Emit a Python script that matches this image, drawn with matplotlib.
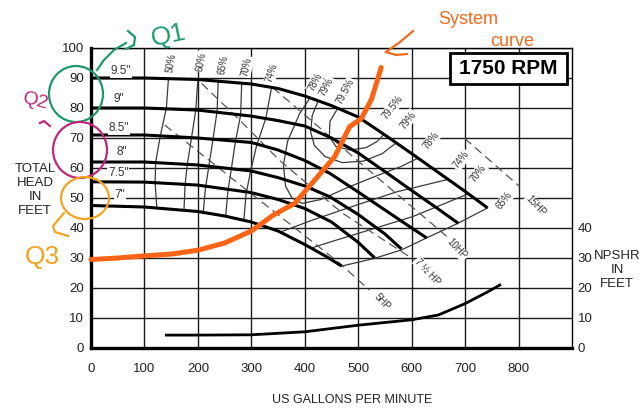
import matplotlib
matplotlib.use("Agg")
import matplotlib.pyplot as plt
from matplotlib.patches import Ellipse, Rectangle

plt.rcParams['font.family'] = ['Liberation Sans', 'DejaVu Sans']

# impeller head curves (gpm, ft)
q_95 = [0, 100, 200, 300, 350, 400, 450, 500, 550, 600, 650, 700, 742]
h_95 = [90, 90, 89.5, 88, 86.5, 84, 80.8, 77, 71, 64.8, 58.5, 52.2, 46.7]
q_90 = [0, 100, 200, 300, 350, 400, 450, 500, 550, 600, 650, 687]
h_90 = [80, 80, 79.3, 77.3, 75.8, 74, 70, 65, 58.8, 52.5, 46.3, 41.6]
q_85 = [0, 100, 200, 300, 350, 400, 447, 500, 550, 600, 628]
h_85 = [71, 71, 70, 68.5, 66, 62.5, 58.2, 52, 46, 40, 36.7]
q_80 = [0, 100, 200, 300, 350, 400, 447, 500, 550, 581]
h_80 = [62, 62, 61, 59, 56.8, 54, 50.4, 44.5, 38, 33]
q_75 = [0, 100, 200, 300, 350, 400, 450, 500, 531]
h_75 = [55.4, 55.3, 54.3, 51.8, 49.5, 46.5, 42, 35.2, 30]
q_70 = [0, 100, 200, 250, 300, 350, 400, 440, 469]
h_70 = [47.5, 47, 45.5, 44, 42, 39, 34.5, 30.5, 27.3]
imp_labels = ['9.5"', '9"', '8.5"', '8"', '7.5"', '7"']
imp_lab_q = [56, 52, 52, 57, 51, 54]
imp_lab_h = [92.4, 83, 73.4, 65.4, 58.4, 51]

# efficiency contours
e50_q = [145, 141, 130, 121, 120, 123]
e50_h = [90, 80, 71, 62, 55, 47.1]
e60_q = [200, 196, 188, 180, 176, 174]
e60_h = [89.5, 79.3, 70, 61, 54.3, 46.1]
e65_q = [238, 236, 228, 220, 214, 210]
e65_h = [89.2, 79, 69.3, 60, 53, 45.2]
e65r_q = [469, 531, 581, 628, 687, 742]
e65r_h = [27.3, 29.9, 32.7, 36.7, 41.6, 46.7]
e70_q = [282, 280, 270, 262, 256, 252]
e70_h = [88.4, 77.7, 68.5, 59, 52, 44]
e70r_q = [412, 447, 500, 602, 706]
e70r_h = [33.3, 35.3, 38.2, 43.8, 51.4]
e74_q = [338, 327, 310, 298, 290, 286]
e74_h = [86.9, 76.5, 67.6, 58.4, 51.1, 42.5]
e74r_q = [355, 420, 503, 571, 668]
e74r_h = [38.7, 43, 48, 52, 56.2]
e78_q = [410, 390, 368, 360, 364, 376, 395, 430, 480, 540, 580, 612]
e78_h = [83.4, 78, 69, 61, 54, 50, 48.2, 49.5, 53.5, 57.8, 60.5, 63.3]
e79_q = [425, 414, 411, 418, 438, 470, 510, 545, 572]
e79_h = [82.4, 77.5, 72, 67.5, 63.8, 61.8, 62.3, 64.8, 68.5]
e795_q = [462, 447, 446, 458, 485, 515, 535, 548]
e795_h = [80, 75.5, 70.5, 67.2, 66, 66.8, 68.8, 71.2]
effl_labels = ['50%', '60%', '65%', '70%', '74%', '78%', '79%', '79.5%']
effl_q = [151, 207, 247, 291, 338, 419, 440, 476]
effl_h = [94.9, 95.4, 94.3, 93.8, 91.6, 88.8, 87.1, 85.4]
effr_labels = ['79.5%', '79%', '78%', '74%', '70%', '65%']
effr_q = [565, 593, 637, 693, 724, 774]
effr_h = [80.4, 76, 69.3, 62.7, 58.2, 49.3]

# horsepower lines
hp5_q = [138, 303, 465, 521]
hp5_h = [74.3, 51, 28.3, 19.3]
hp75_q = [207, 278, 353, 470, 596, 612]
hp75_h = [88.2, 76, 62.5, 45, 30.4, 28.4]
hp10_q = [340, 415, 497, 652, 668]
hp10_h = [86.8, 75.4, 62.7, 39.3, 36.8]
hp15_q = [699, 802]
hp15_h = [69.9, 53.8]
hp_labels = ['5HP', '7 ½ HP', '10HP', '15HP']
hp_lab_q = [545, 630, 685, 832]
hp_lab_h = [15.5, 25.5, 33, 47.5]

# NPSHR
npsh_q = [141, 200, 300, 400, 500, 600, 650, 700, 740, 765]
npsh_h = [4.3, 4.3, 4.4, 5.4, 7.6, 9.4, 11, 14.8, 18.5, 21]

# hand drawn system curve
sys_q = [0, 50, 100, 150, 200, 250, 300, 341, 381, 424, 456, 484, 506, 525, 543]
sys_h = [29.5, 30, 30.7, 31.3, 32.6, 35, 39, 44.3, 48.2, 57.1, 63.8, 73.8, 76.5, 83, 93.5]

fig = plt.figure(figsize=(6.43, 4.08), dpi=100)
ax = fig.add_axes([91/643, 60/408, 481/643, 300/408])
ax.set_xlim(0, 900)
ax.set_ylim(0, 100)
ax.set_xticks(range(0, 900, 100))
ax.set_xticklabels([str(v) for v in range(0, 900, 100)])
ax.set_yticks(range(0, 101, 10))
ax.tick_params(length=0, labelsize=9.5, colors='#222')
ax.tick_params(axis='x', pad=11)
ax.tick_params(axis='y', pad=5)
ax.grid(True, color='#1a1a1a', lw=1.0)
ax.set_axisbelow(True)
for s in ['left', 'bottom']:
    ax.spines[s].set_linewidth(2.4)
for s in ['top', 'right']:
    ax.spines[s].set_linewidth(1.0)

# thin efficiency lines
effc = '#3a3a3a'
for qq, hh in [(e50_q, e50_h), (e60_q, e60_h), (e65_q, e65_h), (e65r_q, e65r_h),
               (e70_q, e70_h), (e70r_q, e70r_h), (e74_q, e74_h), (e74r_q, e74r_h),
               (e78_q, e78_h), (e79_q, e79_h), (e795_q, e795_h)]:
    ax.plot(qq, hh, color=effc, lw=0.9, zorder=3)

# dashed hp lines
for qq, hh in [(hp5_q, hp5_h), (hp75_q, hp75_h), (hp10_q, hp10_h), (hp15_q, hp15_h)]:
    ax.plot(qq, hh, color='#555555', lw=0.9, dashes=(7, 4), zorder=3)

# impeller curves
for qq, hh in [(q_95, h_95), (q_90, h_90), (q_85, h_85), (q_80, h_80), (q_75, h_75), (q_70, h_70)]:
    ax.plot(qq, hh, color='black', lw=2.2, solid_capstyle='butt', zorder=4)

ax.plot(npsh_q, npsh_h, color='black', lw=2.0, zorder=4)

bb = dict(facecolor='white', edgecolor='none', pad=0.6)
for t, x, y in zip(imp_labels, imp_lab_q, imp_lab_h):
    ax.text(x, y, t, fontsize=8.5, color='#333', ha='center', va='center', bbox=bb, zorder=5)
rots_l = [80, 80, 80, 78, 72, 62, 62, 62]
for t, x, y, r in zip(effl_labels, effl_q, effl_h, rots_l):
    ax.text(x, y, t, fontsize=7, color='#333', ha='center', va='center', rotation=r, bbox=bb, zorder=5)
for t, x, y in zip(effr_labels, effr_q, effr_h):
    ax.text(x, y, t, fontsize=7, color='#333', ha='center', va='center', rotation=52, bbox=bb, zorder=5)
for t, x, y in zip(hp_labels, hp_lab_q, hp_lab_h):
    ax.text(x, y, t, fontsize=7, color='#333', ha='center', va='center', rotation=-47, bbox=bb, zorder=5)

ax.plot(sys_q, sys_h, color='#fb6414', lw=3.6, solid_capstyle='round', zorder=6, clip_on=False)

ax2 = ax.twinx()
ax2.set_ylim(0, 100)
ax2.set_yticks([0, 10, 20, 30, 40])
ax2.tick_params(length=0, labelsize=9.5, colors='#222', pad=4)
for s in ax2.spines.values():
    s.set_visible(False)

# overlay in pixel coordinates for text and pen marks
ov = fig.add_axes([0, 0, 1, 1], zorder=10)
ov.set_xlim(0, 643)
ov.set_ylim(408, 0)
ov.axis('off')
ov.patch.set_alpha(0)

ov.text(35, 190, 'TOTAL\nHEAD\nIN\nFEET', ha='center', va='center', fontsize=9.5,
        color='#222', linespacing=1.25)
ov.text(617, 270, 'NPSHR\nIN\nFEET', ha='center', va='center', fontsize=9.5,
        color='#222', linespacing=1.25)
ov.text(352, 400, 'US GALLONS PER MINUTE', ha='center', va='center', fontsize=9, color='#222')

ov.add_patch(Rectangle((450, 53), 117, 31, facecolor='white', edgecolor='black', lw=2))
ov.text(508, 69, '1750 RPM', ha='center', va='center', fontsize=15, fontweight='bold')

# pen annotations
green = '#1e9a6a'
ov.add_patch(Ellipse((76, 94), 54, 56, fill=False, edgecolor=green, lw=1.6))
ov.plot([97, 104, 114, 126], [70, 60, 50, 43], color=green, lw=1.6)
ov.plot([128, 135, 134, 126], [31, 37, 45, 49], color=green, lw=1.6)
ov.text(168, 36, 'Q1', color=green, fontsize=19, ha='center', va='center', rotation=12)

mag = '#c0287a'
ov.add_patch(Ellipse((80, 150), 54, 56, fill=False, edgecolor=mag, lw=1.6))
ov.text(35, 101, 'Q2', color=mag, fontsize=14, ha='center', va='center', rotation=-15)
ov.plot([40, 44, 50], [123, 121, 126], color=mag, lw=1.6)

yel = '#f3a41f'
ov.add_patch(Ellipse((85, 198), 48, 42, fill=False, edgecolor=yel, lw=1.6))
ov.plot([64, 53, 55, 68], [213, 226, 232, 236], color=yel, lw=1.6)
ov.text(42, 257, 'Q3', color=yel, fontsize=19, ha='center', va='center')

org = '#f26a1e'
ov.text(468, 20, 'System', color=org, fontsize=13, ha='center', va='center')
ov.text(512, 41, 'curve', color=org, fontsize=13, ha='center', va='center')
ov.plot([413, 400, 386], [31, 42, 52], color=org, lw=1.6)
ov.plot([386, 396, 407], [52, 55, 54], color=org, lw=1.6)

fig.savefig('out.png', dpi=100)
